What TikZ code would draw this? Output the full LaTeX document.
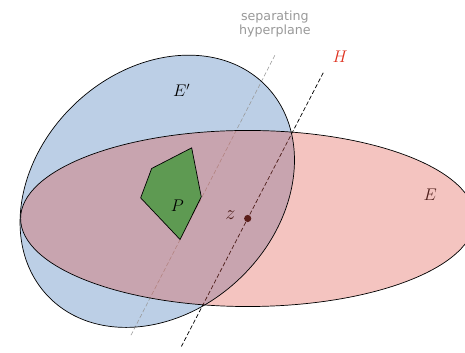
\documentclass[tikz,border=0pt]{standalone}
\usepackage{fontspec}
\newfontfamily\notefont{DejaVu Sans}
\usetikzlibrary{positioning}
\definecolor{halfred}{RGB}{224,86,75}
\definecolor{newblue}{RGB}{188,207,230}
\definecolor{polygreen}{RGB}{94,154,82}
\definecolor{hred}{RGB}{222,48,30}
\begin{document}
\begin{tikzpicture}[line width=0.5pt, hyp/.style={dash pattern=on 3pt off 1.6pt}, sep/.style={hyp, draw=black!40, line width=0.4pt}, lbl/.style={inner sep=1pt}]
\clip (-6.19,-3.34) rectangle (5.43,5.46);
\coordinate (z) at (0,0);
\coordinate (htop) at (62.6:4.1);
\coordinate (hbot) at (242.6:3.6);
\coordinate (stop) at (0.68,4.08);
\coordinate (sbot) at (-2.94,-2.96);
% new ellipsoid E'
\fill[newblue, rotate around={44:(-2.26,0.68)}] (-2.26,0.68) ellipse (3.785 and 3.0);
\draw[sep] (stop) -- (sbot);
\draw[hyp] (htop) -- (hbot);
\fill[black!92!red] (z) circle (0.09);
\node[lbl, font=\Large] (zlab) at (-0.43,0.08) {$z$};
\node[lbl, font=\large] (elab) at (4.56,0.6) {$E$};
% old ellipsoid E on top
\fill[halfred, opacity=0.35] (z) ellipse (5.675 and 2.2);
\draw[fill=polygreen] (-1.40,1.765) -- (-2.40,1.25) -- (-2.675,0.515) -- (-1.69,-0.525) -- (-1.16,0.54) -- cycle;
\node[lbl, font=\large] (plab) at (-1.76,0.33) {$P$};
\node[lbl, font=\large] (eplab) at (-1.65,3.21) {$E'$};
\node[lbl, text=hred, font=\large] (hlab) at (2.31,4.03) {$H$};
\node[lbl, text=black!40, align=center, font=\notefont\fontsize{9}{10.5}\selectfont] (seplab) at (0.68,4.86) {separating\\hyperplane};
\draw[rotate around={44:(-2.26,0.68)}] (-2.26,0.68) ellipse (3.785 and 3.0);
\draw (z) ellipse (5.675 and 2.2);
\end{tikzpicture}
\end{document}
